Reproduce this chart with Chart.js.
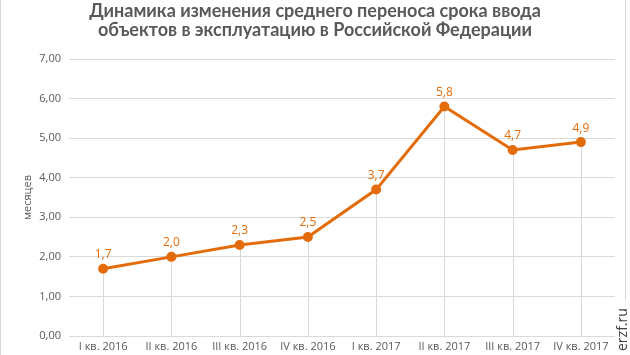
<!DOCTYPE html>
<html><head><meta charset="utf-8">
<script src="https://cdn.jsdelivr.net/npm/chart.js@4"></script>
<style>html,body{margin:0;padding:0;background:#fff;}#wrap{width:630px;height:355px;position:relative;}</style>
</head><body><div id="wrap"><canvas id="c" width="630" height="355"></canvas></div>
<script>
const categories = ['I кв. 2016','II кв. 2016','III кв. 2016','IV кв. 2016','I кв. 2017','II кв. 2017','III кв. 2017','IV кв. 2017'];
const values = [1.7, 2.0, 2.3, 2.5, 3.7, 5.8, 4.7, 4.9];
const yTicks = [0,1,2,3,4,5,6,7];
const titleLines = ['Динамика изменения среднего переноса срока ввода','объектов в эксплуатацию в Российской Федерации'];
const yTitle = 'месяцев';
const watermark = 'erzf.ru';

const ORANGE = '#E36C0A';
const GRAY = '#595959';

const extras = {
  id: 'extras',
  beforeDatasetsDraw(chart) {
    const ctx = chart.ctx;
    const meta = chart.getDatasetMeta(0);
    const bottom = chart.scales.y.getPixelForValue(0);
    ctx.save();
    ctx.strokeStyle = '#d9d9d9';
    ctx.lineWidth = 1;
    meta.data.forEach(p => {
      const x = Math.round(p.x) + 0.5;
      ctx.beginPath(); ctx.moveTo(x, p.y); ctx.lineTo(x, bottom); ctx.stroke();
    });
    ctx.restore();
  },
  afterDatasetsDraw(chart) {
    const ctx = chart.ctx;
    const meta = chart.getDatasetMeta(0);
    ctx.save();
    ctx.fillStyle = ORANGE;
    ctx.font = '12px "Open Sans", sans-serif';
    ctx.textAlign = 'center';
    ctx.textBaseline = 'bottom';
    meta.data.forEach((p, i) => {
      ctx.fillText(values[i].toFixed(1).replace('.', ','), p.x, p.y - 8);
    });
    ctx.restore();
  },
  afterDraw(chart) {
    const ctx = chart.ctx;
    ctx.save();
    // title
    ctx.fillStyle = GRAY;
    ctx.font = 'bold 18px Lato, sans-serif';
    ctx.textAlign = 'center';
    ctx.textBaseline = 'alphabetic';
    ctx.fillText(titleLines[0], 315, 17);
    ctx.fillText(titleLines[1], 315, 36);
    // frame
    ctx.strokeStyle = '#d9d9d9';
    ctx.lineWidth = 1;
    ctx.beginPath(); ctx.moveTo(0.5, 0); ctx.lineTo(0.5, 355); ctx.stroke();
    ctx.beginPath(); ctx.moveTo(625.5, 0); ctx.lineTo(625.5, 300); ctx.stroke();
    // watermark
    ctx.translate(623, 351);
    ctx.rotate(-Math.PI / 2);
    ctx.fillStyle = '#404040';
    ctx.font = '14px "Open Sans", sans-serif';
    ctx.textAlign = 'left';
    ctx.textBaseline = 'middle';
    ctx.fillText(watermark, 0, 0);
    ctx.restore();
  }
};

new Chart(document.getElementById('c'), {
  type: 'line',
  data: {
    labels: categories,
    datasets: [{
      data: values,
      borderColor: ORANGE,
      backgroundColor: ORANGE,
      borderWidth: 3,
      pointRadius: 3.5,
      pointHoverRadius: 3.5,
      pointBackgroundColor: ORANGE,
      pointBorderColor: ORANGE,
      tension: 0
    }]
  },
  options: {
    responsive: false,
    animation: false,
    events: [],
    layout: { padding: { left: 21, right: 15, top: 59, bottom: 0 } },
    plugins: {
      legend: { display: false },
      tooltip: { enabled: false },
      title: { display: false }
    },
    scales: {
      x: {
        offset: true,
        grid: { display: false, drawTicks: false },
        border: { display: false },
        ticks: { color: GRAY, font: { family: '"Open Sans"', size: 11 }, padding: 4, maxRotation: 0, autoSkip: false },
        afterFit(scale) { scale.height = 19; }
      },
      y: {
        min: 0, max: 7,
        afterBuildTicks(scale) { scale.ticks = yTicks.map(v => ({ value: v })); },
        grid: { color: '#d9d9d9', drawTicks: false },
        border: { display: false },
        ticks: {
          color: GRAY, font: { family: '"Open Sans"', size: 11 }, padding: 8,
          callback: v => v.toFixed(2).replace('.', ',')
        },
        title: { display: true, text: yTitle, color: GRAY, font: { family: '"Open Sans"', size: 11 }, padding: { top: 0, bottom: 4 } },
        afterFit(scale) { scale.width = 48; }
      }
    }
  },
  plugins: [extras]
});
</script></body></html>
